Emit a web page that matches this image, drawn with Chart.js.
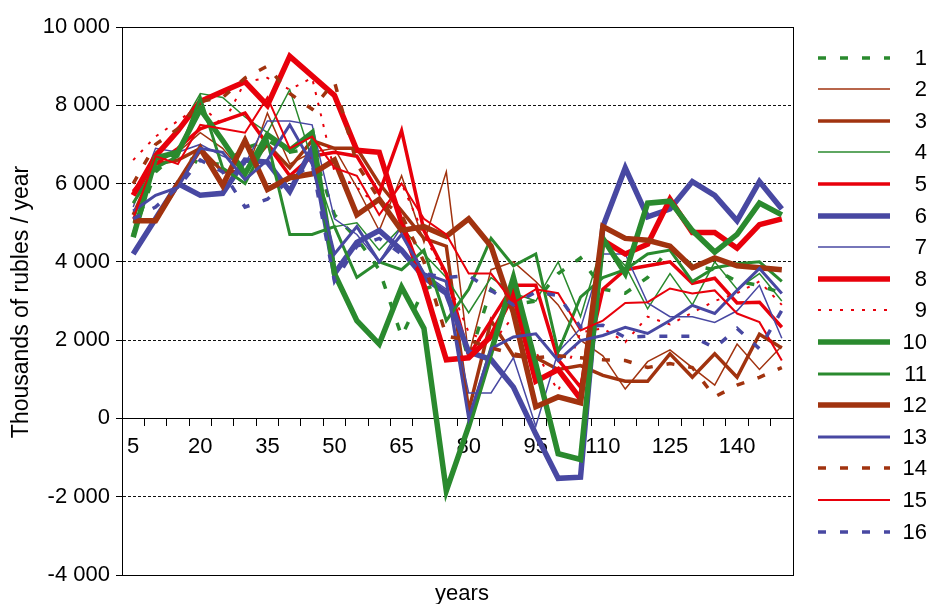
<!DOCTYPE html>
<html>
<head>
<meta charset="utf-8">
<script src="https://cdn.jsdelivr.net/npm/chart.js@4.4.0/dist/chart.umd.min.js"></script>
<style>
  html, body { margin: 0; padding: 0; background: #fff; }
  #wrap { position: relative; width: 931px; height: 604px; }
</style>
</head>
<body>
<div id="wrap"><canvas id="lineChart"></canvas></div>
<script>
// categories (years)
const years = ['5', '10', '15', '20', '25', '30', '35', '40', '45', '50',
               '55', '60', '65', '70', '75', '80', '85', '90', '95', '100',
               '105', '110', '115', '120', '125', '130', '135', '140', '145', '150'];

// y ticks
const yTicks = [-4000, -2000, 0, 2000, 4000, 6000, 8000, 10000];

// series values, thousands of rubles / year
const s1  = [4700, 6300, 6800, 6500, 6500, 6900, 7100, 6800, 6900, 5200, 4600, 3800, 2100, 3300, 3500, 1500, 3300, 2900, 3000, 3700, 4100, 3300, 3200, 3600, 4400, 3900, 3800, 3500, 3400, 3200];
const s2  = [5500, 6600, 6800, 7300, 6900, 6200, 7800, 6500, 6800, 6900, 5900, 4800, 6200, 4500, 6300, 1600, 3800, 4000, 3500, 2900, 2000, 1600, 750, 1450, 1750, 1300, 850, 1900, 1250, 1850];
const s3  = [5200, 6500, 6600, 6900, 6300, 6300, 7000, 6400, 7100, 6900, 6900, 6000, 5300, 4600, 4400, 200, 2500, 1600, 1550, 1250, 1350, 1100, 950, 950, 1650, 1050, 1650, 1050, 2150, 1800];
const s4  = [5000, 6800, 7300, 8300, 8200, 7700, 7300, 8400, 6600, 4900, 5000, 4300, 4900, 4200, 3600, 2700, 3600, 3200, 3000, 4000, 2600, 4500, 3900, 2800, 3700, 2900, 4000, 3300, 3700, 3000];
const s5  = [5800, 6500, 6900, 7400, 7600, 7800, 7000, 6200, 6700, 6800, 6700, 5750, 7350, 4800, 3700, 1600, 2500, 3400, 3400, 1500, 800, 3300, 3800, 3900, 4000, 3450, 3580, 2950, 2970, 2330];
const s6  = [4200, 5100, 6000, 5700, 5750, 6600, 6550, 5800, 6900, 3700, 4500, 4800, 4300, 3600, 3200, 1700, 1500, 800, -400, -1530, -1500, 4900, 6400, 5150, 5350, 6050, 5700, 5050, 6050, 5350];
const s7  = [5400, 6900, 6800, 7000, 6700, 6500, 7600, 7600, 7500, 5100, 4700, 4000, 4900, 3700, 3300, 650, 650, 1550, -200, 1700, 2300, 4200, 4200, 2950, 2600, 2600, 2450, 2750, 3400, 2050];
const s8  = [5700, 6700, 7350, 8100, 8350, 8600, 8000, 9250, 8750, 8250, 6850, 6800, 5000, 3400, 1500, 1550, 2100, 3200, 950, 1250, 500, 4550, 4200, 4450, 5600, 4750, 4750, 4350, 4950, 5100];
const s9  = [6600, 7200, 7600, 8000, 7500, 8600, 8700, 8400, 8700, 6300, 5900, 5400, 6000, 4700, 3600, 2200, 1900, 2600, 1700, 700, 2200, 2300, 1950, 2600, 2400, 2700, 3000, 3200, 3500, 2900];
const s10 = [4630, 6650, 6800, 7900, 7100, 6250, 7250, 6850, 7300, 3700, 2500, 1900, 3350, 2300, -1850, -200, 1700, 3600, 1400, -900, -1050, 4600, 3700, 5500, 5550, 4800, 4250, 4700, 5500, 5200];
const s11 = [5500, 6400, 6700, 8200, 6400, 6000, 7100, 4700, 4700, 4900, 3600, 4000, 3800, 4300, 2500, 3300, 4600, 3900, 4200, 1700, 3100, 3600, 3800, 4200, 4300, 3500, 3850, 3950, 4000, 3500];
const s12 = [5050, 5050, 6000, 6900, 5950, 7100, 5850, 6150, 6250, 6600, 5200, 5600, 4800, 4900, 4650, 5100, 4400, 2700, 300, 550, 400, 4900, 4600, 4550, 4400, 3850, 4100, 3900, 3850, 3800];
const s13 = [5300, 5700, 5900, 6900, 6800, 6100, 6600, 7500, 6500, 4200, 4900, 4000, 4700, 3700, 3500, 0, 1780, 2080, 2160, 1480, 1990, 2120, 2330, 2170, 2500, 2890, 2680, 3270, 3830, 3190];
const s14 = [6000, 7000, 7400, 8100, 8200, 8700, 9000, 8300, 7900, 8600, 6500, 5600, 5200, 4000, 2100, 2000, 1800, 1650, 1550, 1600, 1550, 1500, 1480, 1300, 1400, 1300, 550, 850, 1050, 1300];
const s15 = [5100, 6700, 6500, 7500, 7400, 7300, 8200, 6900, 7200, 6400, 6200, 5200, 6000, 5100, 4700, 3700, 3700, 2950, 3300, 3200, 2250, 2500, 2950, 2970, 3320, 3190, 3270, 2680, 2460, 1480];
const s16 = [5100, 5400, 5900, 6600, 6300, 5400, 5600, 6100, 6500, 3500, 4400, 4600, 4200, 3700, 3600, 3650, 3270, 2900, 3230, 3140, 2330, 2380, 2070, 2100, 2100, 2100, 1800, 2300, 1780, 2760];

const seriesLabels = ['1', '2', '3', '4', '5', '6', '7', '8', '9', '10', '11', '12', '13', '14', '15', '16'];
const seriesData = [s1, s2, s3, s4, s5, s6, s7, s8, s9, s10, s11, s12, s13, s14, s15, s16];

const GREEN = '#2a8a2e';
const BROWN = '#a1330f';
const RED = '#e8000b';
const BLUE = '#4848a2';

// colour, width, dash for each series
const seriesStyle = [
    { color: GREEN, width: 3.5, dash: [8, 14] },
    { color: BROWN, width: 1.5, dash: [] },
    { color: BROWN, width: 3.5, dash: [] },
    { color: GREEN, width: 1.5, dash: [] },
    { color: RED,   width: 3.5, dash: [] },
    { color: BLUE,  width: 5.5, dash: [] },
    { color: BLUE,  width: 1.5, dash: [] },
    { color: RED,   width: 5.5, dash: [] },
    { color: RED,   width: 2,   dash: [3, 8] },
    { color: GREEN, width: 5.5, dash: [] },
    { color: GREEN, width: 3,   dash: [] },
    { color: BROWN, width: 5.5, dash: [] },
    { color: BLUE,  width: 3,   dash: [] },
    { color: BROWN, width: 3.5, dash: [8, 14] },
    { color: RED,   width: 2,   dash: [] },
    { color: BLUE,  width: 3.5, dash: [8, 14] }
];

const FONT = '"Liberation Sans", Arial, Helvetica, sans-serif';

function formatThousands(v) {
    const s = String(Math.abs(v));
    const out = s.length > 3 ? s.slice(0, s.length - 3) + ' ' + s.slice(-3) : s;
    return (v < 0 ? '-' : '') + out;
}

// frame, legend and axis titles
const framePlugin = {
    id: 'framePlugin',
    afterDraw(chart) {
        const ctx = chart.ctx;
        const a = chart.chartArea;
        ctx.save();
        ctx.strokeStyle = '#000';
        ctx.lineWidth = 1;
        ctx.setLineDash([]);
        ctx.strokeRect(Math.round(a.left) + 0.5, Math.round(a.top) + 0.5,
                       Math.round(a.right - a.left), Math.round(a.bottom - a.top));

        chart.data.datasets.forEach((ds, i) => {
            const y = Math.round(57.5 + i * 31.6);
            ctx.beginPath();
            ctx.lineWidth = ds.borderWidth;
            ctx.strokeStyle = ds.borderColor;
            ctx.setLineDash(ds.borderDash);
            ctx.moveTo(818, y);
            ctx.lineTo(890, y);
            ctx.stroke();
            ctx.setLineDash([]);
            ctx.fillStyle = '#000';
            ctx.font = '22px ' + FONT;
            ctx.textAlign = 'right';
            ctx.textBaseline = 'middle';
            ctx.fillText(ds.label, 927, y + 1);
        });

        ctx.font = '22px ' + FONT;
        ctx.fillStyle = '#000';
        ctx.textAlign = 'center';
        ctx.textBaseline = 'middle';
        ctx.fillText('years', 462, 594);

        ctx.font = '23px ' + FONT;
        ctx.translate(22, 302);
        ctx.rotate(-Math.PI / 2);
        ctx.fillText('Thousands of rubles / year', 0, 0);
        ctx.restore();
    }
};

document.addEventListener("DOMContentLoaded", () => {
    Chart.defaults.font.family = FONT;
    Chart.defaults.font.size = 22;
    Chart.defaults.color = '#000';

    const datasets = seriesData.map((d, i) => ({
        label: seriesLabels[i],
        data: d,
        borderColor: seriesStyle[i].color,
        backgroundColor: seriesStyle[i].color,
        borderWidth: seriesStyle[i].width,
        borderDash: seriesStyle[i].dash,
        pointRadius: 0,
        pointHoverRadius: 0,
        tension: 0,
        fill: false,
        order: seriesData.length - i
    }));

    new Chart(document.getElementById('lineChart'), {
        type: 'line',
        data: {
            labels: years,
            datasets: datasets
        },
        options: {
            responsive: true,
            maintainAspectRatio: false,
            animation: false,
            layout: {
                padding: { top: 27, right: 138, bottom: 29, left: 0 }
            },
            plugins: {
                legend: { display: false },
                tooltip: { enabled: false }
            },
            scales: {
                x: {
                    type: 'category',
                    position: { y: 0 },
                    offset: true,
                    grid: {
                        offset: true,
                        drawOnChartArea: false,
                        drawTicks: true,
                        tickLength: 7,
                        color: '#000',
                        tickColor: '#000'
                    },
                    border: { display: true, color: '#000', width: 1 },
                    ticks: {
                        autoSkip: false,
                        maxRotation: 0,
                        padding: 8,
                        font: { size: 22 },
                        callback: function (v, i) {
                            return i % 3 === 0 ? this.getLabelForValue(v) : '';
                        }
                    },
                    afterFit: (scale) => { scale.height = 0; }
                },
                y: {
                    min: -4000,
                    max: 10000,
                    afterBuildTicks: (scale) => {
                        scale.ticks = yTicks.map(v => ({ value: v }));
                    },
                    grid: {
                        drawTicks: true,
                        tickLength: 6,
                        tickColor: '#000',
                        lineWidth: 1,
                        color: (c) => {
                            const v = c.tick ? c.tick.value : null;
                            return (v === 0 || v === -4000 || v === 10000) ? 'rgba(0,0,0,0)' : '#111';
                        }
                    },
                    border: { display: true, color: '#000', width: 1, dash: [3, 2] },
                    ticks: {
                        padding: 6,
                        font: { size: 22 },
                        callback: (v) => formatThousands(v)
                    },
                    afterFit: (scale) => { scale.width = 122; }
                }
            }
        },
        plugins: [framePlugin]
    });
});
</script>
</body>
</html>
